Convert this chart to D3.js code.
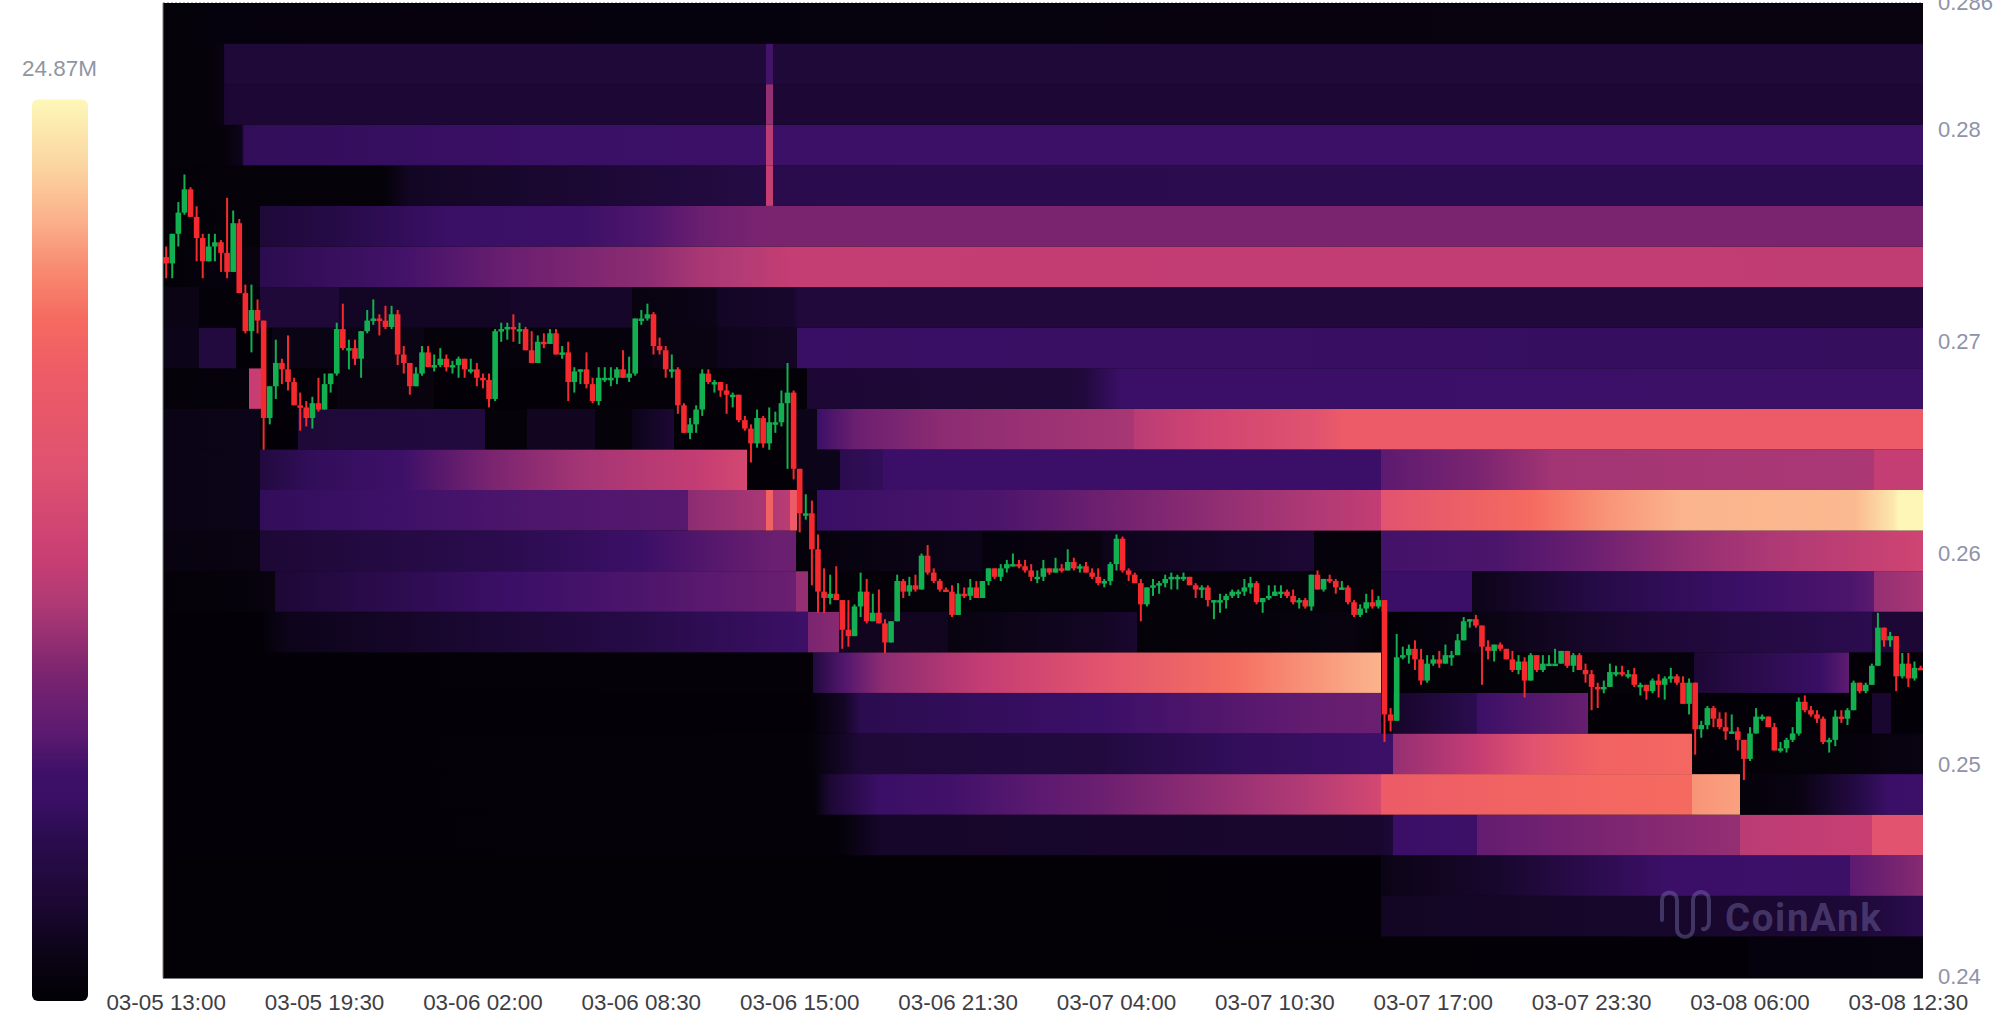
<!DOCTYPE html>
<html><head><meta charset="utf-8">
<style>html,body{margin:0;padding:0;background:#fff;overflow:hidden}svg{display:block}
text{font-family:"Liberation Sans",Arial,sans-serif}</style>
<script src="https://cdn.jsdelivr.net/npm/d3@7"></script></head><body><div id="chart"></div>
<script>
// ---- tick labels ----
const xTickHours=[0,6.5,13,19.5,26,32.5,39,45.5,52,58.5,65,71.5];
const yTicks=[0.24,0.25,0.26,0.27,0.28,0.286];
const maxLabel="24.87M";
// ---- colour ramp: value (millions) -> colour ----
const rampValues=[0,1.4,2.7,4.45,5.55,6.3,7.4,9,11,12.2,14.7,17.4,18.8,20.3,21.6,23,24.87];
const rampColors=["#020104","#0c0418","#1c0833","#2a0c4e","#3a0f66","#3e1068","#5c1a70","#7a2470","#b03a75","#c83e73","#df5270","#ee5c66","#f56a60","#f88d72","#fbb28c","#fbd4a0","#fdf7b8"];
// ---- candles, price x 10000, one candle each 15 minutes from 03-05 13:00 ----
const firstOpen=2740;
const closes=[2737,2751,2761,2772,2759,2749,2738,2745,2747,2742,2733,2756,2723,2705,2715,2710,2664,2679,2690,2687,2681,2670,2669,2664,2671,2668,2680,2685,2706,2697,2697,2692,2705,2710,2711,2710,2707,2713,2694,2690,2679,2685,2695,2688,2689,2692,2688,
2689,2692,2687,2687,2683,2682,2673,2705,2706,2707,2706,2706,2696,2690,2700,2699,2704,2694,2695,2681,2686,2687,2680,2672,2683,2683,2683,2687,2683,2685,2711,2711,2713,2698,2696,2687,2687,2670,
2657,2661,2668,2685,2681,2681,2677,2675,2675,2663,2659,2652,2664,2652,2662,2662,2671,2676,2640,2619,2619,2602,2582,2579,2581,2578,2564,2561,2575,2582,2568,2572,2567,2558,2568,2587,
2582,2585,2583,2599,2591,2587,2583,2582,2571,2581,2580,2584,2579,2587,2593,2589,2593,2595,2595,2594,2592,2589,2589,2593,2591,2593,2592,2596,2593,2594,2591,2589,2586,2587,2595,2607,2592,2590,2586,2576,2584,
2585,2586,2588,2589,2589,2589,2585,2583,2584,2578,2578,2578,2580,2582,2582,2584,2586,2577,2579,2580,2582,2582,2580,2577,2578,2575,2590,2583,2588,2587,2584,2584,2577,2571,2574,2577,2575,2578,
2524,2521,2551,2552,2555,2550,2540,2548,2550,2548,2552,2552,2559,2568,2569,2566,2556,2554,2557,2555,2550,2545,2549,2540,2552,2545,2548,2548,2548,2554,2547,2552,2545,2543,2537,2536,
2537,2544,2544,2543,2543,2538,2538,2535,2540,2538,2541,2542,2539,2529,2539,2517,2519,2527,2522,2518,2516,2516,2512,2503,2515,2523,2523,2518,2507,2508,2512,2515,2530,2526,2524,2522,2511,2512,2523,2522,2526,2539,2535,2538,2547,2565,2559,2561,2542,2548,2541,2546,2545];
const highs=[2745,2751,2766,2779,2773,2764,2751,2751,2751,2748,2768,2762,2758,2727,2727,2720,2710,2679,2701,2692,2703,2683,2676,2672,2674,2683,2685,2685,2709,2718,2701,2701,2705,2715,2720,2713,2717,2717,2715,2698,2690,2688,2698,2698,2694,2697,2694,
2691,2693,2692,2692,2690,2685,2685,2706,2709,2709,2713,2709,2707,2705,2703,2704,2706,2706,2698,2700,2688,2687,2695,2683,2688,2688,2688,2688,2696,2693,2711,2715,2718,2714,2702,2698,2694,2688,
2671,2664,2670,2687,2687,2682,2681,2680,2676,2675,2665,2661,2668,2665,2669,2667,2677,2690,2677,2639,2628,2625,2609,2593,2590,2594,2578,2578,2576,2591,2588,2581,2583,2569,2568,2590,
2588,2589,2590,2600,2604,2593,2588,2584,2585,2586,2584,2588,2587,2587,2593,2593,2595,2597,2600,2597,2597,2595,2592,2597,2593,2598,2595,2602,2598,2595,2596,2593,2593,2588,2596,2609,2608,2593,2591,2588,2584,
2588,2587,2590,2591,2590,2591,2588,2586,2585,2585,2578,2581,2581,2583,2583,2588,2589,2587,2579,2585,2585,2585,2583,2583,2579,2579,2590,2592,2588,2590,2588,2587,2585,2578,2576,2581,2583,2580,
2578,2527,2562,2556,2557,2559,2555,2552,2552,2554,2557,2554,2562,2570,2569,2571,2566,2559,2557,2558,2554,2554,2552,2551,2553,2552,2552,2552,2555,2554,2554,2553,2553,2548,2545,2539,
2540,2548,2547,2547,2545,2546,2539,2538,2541,2543,2542,2546,2543,2542,2541,2539,2521,2528,2528,2525,2525,2524,2518,2512,2518,2527,2524,2523,2520,2511,2513,2518,2532,2533,2528,2526,2523,2513,2526,2526,2527,2540,2539,2539,2548,2572,2565,2563,2561,2553,2553,2549,2547];
const lows=[2730,2730,2745,2760,2759,2738,2730,2738,2738,2733,2730,2734,2723,2704,2695,2704,2649,2661,2673,2680,2677,2670,2658,2660,2659,2667,2669,2676,2684,2696,2687,2689,2683,2704,2708,2703,2706,2706,2689,2685,2675,2680,2684,2688,2686,2688,2686,
2685,2683,2683,2685,2679,2678,2669,2672,2700,2701,2700,2699,2696,2690,2691,2697,2699,2694,2692,2672,2676,2680,2678,2671,2670,2681,2679,2680,2683,2681,2684,2708,2710,2694,2694,2683,2683,2666,
2657,2654,2657,2665,2680,2676,2674,2666,2669,2662,2658,2643,2650,2650,2649,2657,2660,2640,2635,2610,2616,2585,2572,2572,2576,2578,2555,2556,2561,2570,2567,2568,2567,2553,2558,2568,
2579,2580,2582,2584,2590,2586,2582,2582,2570,2571,2579,2578,2579,2580,2585,2588,2587,2591,2594,2593,2591,2587,2586,2587,2590,2591,2591,2592,2592,2591,2591,2588,2585,2584,2585,2592,2591,2587,2586,2568,2575,
2580,2581,2584,2583,2583,2587,2585,2579,2579,2575,2569,2572,2574,2579,2579,2580,2581,2576,2572,2578,2580,2579,2579,2576,2574,2574,2573,2583,2582,2586,2581,2583,2576,2570,2570,2572,2574,2574,
2511,2516,2521,2550,2548,2545,2538,2539,2547,2546,2548,2547,2552,2559,2565,2565,2538,2550,2549,2554,2550,2544,2543,2532,2540,2544,2544,2547,2548,2548,2546,2544,2545,2539,2526,2527,
2534,2537,2542,2542,2541,2537,2533,2531,2534,2532,2531,2539,2538,2529,2524,2505,2513,2517,2518,2517,2512,2515,2507,2493,2502,2515,2521,2518,2507,2506,2506,2511,2514,2525,2523,2520,2510,2506,2509,2520,2519,2526,2534,2534,2538,2547,2556,2556,2535,2541,2537,2540,2545];
// ---- liquidity bands, lowest price row first: [hours after 03-05 13:00, value in millions] ----
const band00=[[-0.13,0.1],[64.9,0.2],[64.9,0.6],[72.1,0.7]];
const band01=[[-0.13,0.1],[49.85,0.2],[49.85,2],[63,2.4],[69.5,3],[72.1,4.5]];
const band02=[[-0.13,0.1],[49.85,0.2],[49.85,1.2],[54.7,2.4],[61.6,5.8],[69.1,6],[69.1,7.4],[70.7,8.6],[72.1,9.5]];
const band03=[[-0.13,0.2],[27.65,0.3],[28.5,1.5],[29.3,2.2],[49.85,2.5],[50.35,3],[50.35,5.8],[53.8,6.2],[53.8,7.8],[58.8,9],[64.6,10],[64.6,11.5],[70,12.2],[70,15],[72.1,15]];
const band04=[[-0.13,0.2],[26.6,0.3],[27.25,2.8],[29.3,5.8],[32.2,6.4],[35.9,7.4],[38.3,8.2],[46.5,11],[49.85,13.5],[49.85,17],[54.7,18],[62.6,18.8],[62.6,20.5],[64.6,21],[64.6,0.4],[67,1],[69.5,4],[70.7,5.8],[72.1,6]];
const band05=[[-0.13,0.2],[26.4,0.3],[27.65,2],[28.5,3],[38.3,3.5],[43.8,5],[49.85,6],[50.35,6],[50.35,10],[53.8,12],[56.1,15],[58.8,18],[62.6,18.5],[62.6,0.2],[68.4,0.4],[72.1,1]];
const band06=[[-0.13,0.2],[26.4,0.2],[27.8,2],[28.5,4.5],[38.3,5.8],[47.1,7.8],[49.85,8.2],[49.85,0.2],[50.35,0.2],[50.35,2.2],[53.8,4.5],[53.8,6],[58.35,8],[58.35,0.2],[70,0.2],[70,2.5],[70.8,2.5],[70.8,0.2],[72.1,0.2]];
const band07=[[-0.13,0.2],[26.55,0.3],[26.55,3.5],[27.8,7],[29.4,9.7],[33.5,12],[38.3,15],[43.8,19],[49.85,21.7],[49.85,0.2],[58.8,0.4],[62.7,0.5],[62.7,2.8],[67.9,5.5],[69.05,7.5],[69.05,0.2],[72.1,0.2]];
const band08=[[-0.13,0.2],[3.9,0.2],[5,1.5],[19.4,4],[26.35,6],[26.35,9],[27.6,9.5],[27.6,1.8],[32.1,1.8],[32.1,0.8],[38.3,2],[39.85,2.5],[39.85,0.3],[48.6,0.8],[49.85,0.2],[50.35,0.2],[54.7,1.2],[60.5,2.8],[70,4.5],[70,2.8],[72.1,2.8]];
const band09=[[-0.13,0.3],[2.2,0.4],[4.45,0.8],[4.45,2.8],[14.1,5.8],[19.4,6.8],[25.85,8.2],[25.85,10],[26.35,10],[26.35,0.3],[49.85,0.4],[49.85,5.8],[53.6,5.8],[53.6,1.4],[58.8,4],[64.6,5.8],[69.1,6.8],[70.1,7.4],[70.1,10],[72.1,10.7]];
const band10=[[-0.13,0.8],[3.85,1],[3.85,2.8],[14.1,4.5],[19.4,5.8],[25,8.2],[25.85,8.2],[25.85,0.4],[26.7,0.6],[30.8,1.2],[33.5,1.4],[33.5,0.6],[38.3,0.8],[38.5,1.5],[47.1,2.8],[47.1,0.5],[49.85,0.5],[49.85,6.5],[54.7,6.8],[58.4,8.2],[62.5,10],[66.3,11],[72.1,13]];
const band11=[[-0.13,1.2],[3.85,1.4],[3.85,5],[8.9,6],[14.1,6.8],[21.4,7.2],[21.4,9.7],[24.4,10.7],[24.6,10.7],[24.6,18],[24.9,18],[24.9,11],[25.6,11.5],[25.6,17],[25.9,17],[25.9,1],[26.7,1],[26.7,5.5],[34.2,6.8],[38.9,8.5],[47.3,11],[49.65,11.9],[49.85,11.9],[49.85,15],[56,18.8],[59,20.5],[62.2,21.7],[69.3,21.9],[70.9,24],[71.1,24.8],[72.1,24.8]];
const band12=[[-0.13,1.2],[3.85,1.4],[3.85,3.5],[6,5],[9.7,6.2],[13.3,9],[17,10.5],[21.9,12],[23.85,13.5],[23.85,0.2],[25.85,0.2],[25.85,1.4],[27.65,1.4],[27.65,4.5],[29.4,5],[29.4,5.8],[49.85,5.8],[49.85,7.4],[53.8,9],[57,10.5],[70.1,10.8],[70.1,12],[72.1,12]];
const band13=[[-0.13,1.2],[3.85,1.4],[3.85,0.2],[5.4,0.2],[5.4,3],[13.1,3.5],[13.1,0.4],[14.8,0.4],[14.8,1.8],[17.6,1.8],[17.6,0.4],[19.1,0.4],[19.1,1.4],[20.85,2.8],[20.85,0.2],[25.85,0.2],[25.85,1.4],[26.7,1.4],[26.7,5.8],[28.3,8.2],[32,9.7],[34.2,10],[39.7,10.7],[39.7,11.5],[42.6,13],[47.3,15],[48.3,17],[72.1,17]];
const band14=[[-0.13,0.4],[3.4,0.5],[3.4,12.2],[3.9,12.2],[3.9,0.2],[7,0.3],[7,0.8],[11,0.8],[11,0.2],[26.3,0.3],[26.3,2.8],[36,3],[37.6,3.2],[39.2,5.8],[72.1,6]];
const band15=[[-0.13,1.4],[1.35,1.4],[1.35,3.5],[2.85,3.5],[2.85,0.2],[4.35,0.2],[4.35,1.2],[10.6,1.2],[10.6,0.4],[19.9,0.6],[20,1],[22.6,1],[22.6,1.6],[25.9,2],[25.9,5.5],[72.1,5.2]];
const band16=[[-0.13,1.2],[1.35,1.2],[1.35,0.3],[3.85,0.3],[3.85,3],[7.1,3],[7.1,2],[14.1,2],[14.1,2.2],[19.1,2.2],[19.1,0.8],[22.6,1.4],[22.6,2],[25.7,2.4],[26,3.3],[72.1,3.3]];
const band17=[[-0.13,0.2],[2,0.6],[3.85,0.8],[3.85,4.5],[9.7,6.5],[14.2,8.2],[19.7,9.7],[21.9,10.7],[23.7,11.2],[25.6,12],[72.1,11.8]];
const band18=[[-0.13,0.2],[3.85,0.4],[3.85,3],[7,4],[11.5,5.6],[17,6],[20,7],[22,8.2],[24.6,9],[72.1,9]];
const band19=[[-0.13,0.3],[9,0.4],[10,2],[24.6,3.8],[24.6,12],[24.9,12],[24.9,4.4],[72.1,4.6]];
const band20=[[-0.13,0.3],[2.4,0.5],[3.1,1.5],[3.2,5],[15,5.6],[24.6,6],[24.6,11.5],[24.9,11.5],[24.9,6],[72.1,6]];
const band21=[[-0.13,0.3],[1.8,0.5],[2.35,0.8],[2.4,2.8],[24.6,2.8],[24.6,10],[24.9,10],[24.9,2.8],[72.1,2.8]];
const band22=[[-0.13,0.3],[1.8,0.5],[2.35,0.8],[2.4,3],[24.6,3],[24.6,6.5],[24.9,6.5],[24.9,3],[72.1,3]];
const band23=[[-0.13,0.3],[2,0.6],[72.1,0.8]];
const bands=[band00,band01,band02,band03,band04,band05,band06,band07,band08,band09,band10,band11,band12,band13,band14,band15,band16,band17,band18,band19,band20,band21,band22,band23];

const W=2000,H=1018,pL=163,pR=1923,pT=3,pB=978;
const t0=new Date(2025,2,5,13,0).getTime();
const atHour=h=>new Date(t0+h*3600000);
const x=d3.scaleTime().domain([atHour(-0.13),atHour(72.1)]).range([pL,pR]);
const y=d3.scaleLinear().domain([0.24,0.286]).range([pB-1,pT]);
const colour=d3.scaleLinear().domain(rampValues).range(rampColors).clamp(true);
const svg=d3.select("#chart").append("svg").attr("width",W).attr("height",H);
const defs=svg.append("defs");
defs.append("clipPath").attr("id","plot").append("rect").attr("x",pL).attr("y",pT).attr("width",pR-pL).attr("height",pB-pT);
defs.append("filter").attr("id","soft").attr("x",0).attr("y",0).attr("width",1).attr("height",1).attr("color-interpolation-filters","sRGB")
  .append("feGaussianBlur").attr("stdDeviation",0.6);

// bands
const rowStep=(0.286-0.24)/bands.length;
const plot=svg.append("g").attr("clip-path","url(#plot)").append("g").attr("filter","url(#soft)");
plot.append("rect").attr("x",pL).attr("y",pT).attr("width",pR-pL).attr("height",pB-pT).attr("fill","#020104");
bands.forEach((b,k)=>{
  const id="band"+k,x0=x(atHour(b[0][0])),x1=x(atHour(b[b.length-1][0]));
  const g=defs.append("linearGradient").attr("id",id).attr("gradientUnits","userSpaceOnUse").attr("x1",x0).attr("x2",x1).attr("y1",0).attr("y2",0);
  g.selectAll("stop").data(b).join("stop").attr("offset",d=>(x(atHour(d[0]))-x0)/(x1-x0)).attr("stop-color",d=>colour(d[1]));
  const yTop=k===bands.length-1?pT:y(0.24+(k+1)*rowStep);
  const yBot=k===0?pB:y(0.24+k*rowStep);
  plot.append("rect").attr("x",x0).attr("width",x1-x0).attr("y",yTop).attr("height",yBot-yTop).attr("fill",`url(#${id})`);
});

// candles
const candles=closes.map((c,i)=>({t:atHour(i*0.25),o:(i?closes[i-1]:firstOpen)/1e4,c:c/1e4,h:highs[i]/1e4,l:lows[i]/1e4}));
const up="#12b050",down="#f52a2e";
const cg=plot.append("g");
cg.selectAll("line").data(candles).join("line").attr("x1",d=>x(d.t)).attr("x2",d=>x(d.t))
  .attr("y1",d=>y(Math.max(d.h,d.o,d.c))).attr("y2",d=>y(Math.min(d.l,d.o,d.c)))
  .attr("stroke",d=>d.c>=d.o?up:down).attr("stroke-width",2);
cg.selectAll("rect").data(candles).join("rect").attr("x",d=>x(d.t)-2.8).attr("width",5.6)
  .attr("y",d=>y(Math.max(d.o,d.c))).attr("height",d=>Math.max(2.5,Math.abs(y(d.o)-y(d.c))))
  .attr("fill",d=>d.c>=d.o?up:down);

// watermark
const wm=svg.append("g").attr("clip-path","url(#plot)");
wm.append("path").attr("d","M1662 920 V900 a7.5 7.5 0 0 1 15 0 V929 a8 8 0 0 0 16 0 V900 a8 8 0 0 1 16 0 V922 a5 7 0 0 1 -6 7")
  .attr("fill","none").attr("stroke","#7d74b0").attr("stroke-opacity",.42).attr("stroke-width",4).attr("stroke-linecap","round");
wm.append("text").attr("x",1725).attr("y",931).attr("fill","#7d74b0").attr("fill-opacity",.42)
  .style("font-family","Roboto,sans-serif").style("font-weight",700).style("font-size","38.5px").style("letter-spacing","1.6px").text("CoinAnk");

// frame
svg.append("line").attr("x1",pL).attr("x2",pL).attr("y1",pT).attr("y2",pB).attr("stroke","#7c7c80");
svg.append("line").attr("x1",pL).attr("x2",pR).attr("y1",pB+.5).attr("y2",pB+.5).attr("stroke","#7c7c80");
svg.append("line").attr("x1",pL).attr("x2",pR).attr("y1",2.5).attr("y2",2.5).attr("stroke","#b8b8bc").attr("stroke-dasharray","2 2");

// axes
const xAxis=d3.axisBottom(x).tickValues(xTickHours.map(atHour)).tickFormat(d3.timeFormat("%m-%d %H:%M")).tickSize(0).tickPadding(0);
const gx=svg.append("g").attr("transform",`translate(-0.5,${pB})`).call(xAxis);
gx.select(".domain").remove();
gx.selectAll("text").attr("y",25).attr("dy","0.32em").attr("fill","#3e3e44").style("font-size","22.4px").style("font-family","'Liberation Sans',Arial,sans-serif");
const yAxis=d3.axisRight(y).tickValues(yTicks).tickFormat(d=>String(d)).tickSize(0).tickPadding(0);
const gy=svg.append("g").attr("transform",`translate(1938,-0.5)`).call(yAxis);
gy.select(".domain").remove();
gy.selectAll("text").attr("x",0).attr("dy","0.32em").attr("fill","#8f93aa").style("font-size","22px").style("font-family","'Liberation Sans',Arial,sans-serif");

// colour bar
const legendY=d3.scaleLinear().domain([0,24.87]).range([1001,99.5]);
const lg=defs.append("linearGradient").attr("id","legend").attr("gradientUnits","userSpaceOnUse").attr("x1",0).attr("x2",0).attr("y1",legendY(0)).attr("y2",legendY(24.87));
lg.selectAll("stop").data(rampValues).join("stop").attr("offset",d=>d/24.87).attr("stop-color",d=>colour(d));
svg.append("rect").attr("x",32).attr("y",legendY(24.87)).attr("width",56).attr("height",legendY(0)-legendY(24.87)).attr("rx",6).attr("fill","url(#legend)");
svg.append("text").attr("x",59.5).attr("y",68).attr("dy","0.35em").attr("text-anchor","middle").attr("fill","#8f96a3").style("font-size","22.5px").text(maxLabel);
</script></body></html>
